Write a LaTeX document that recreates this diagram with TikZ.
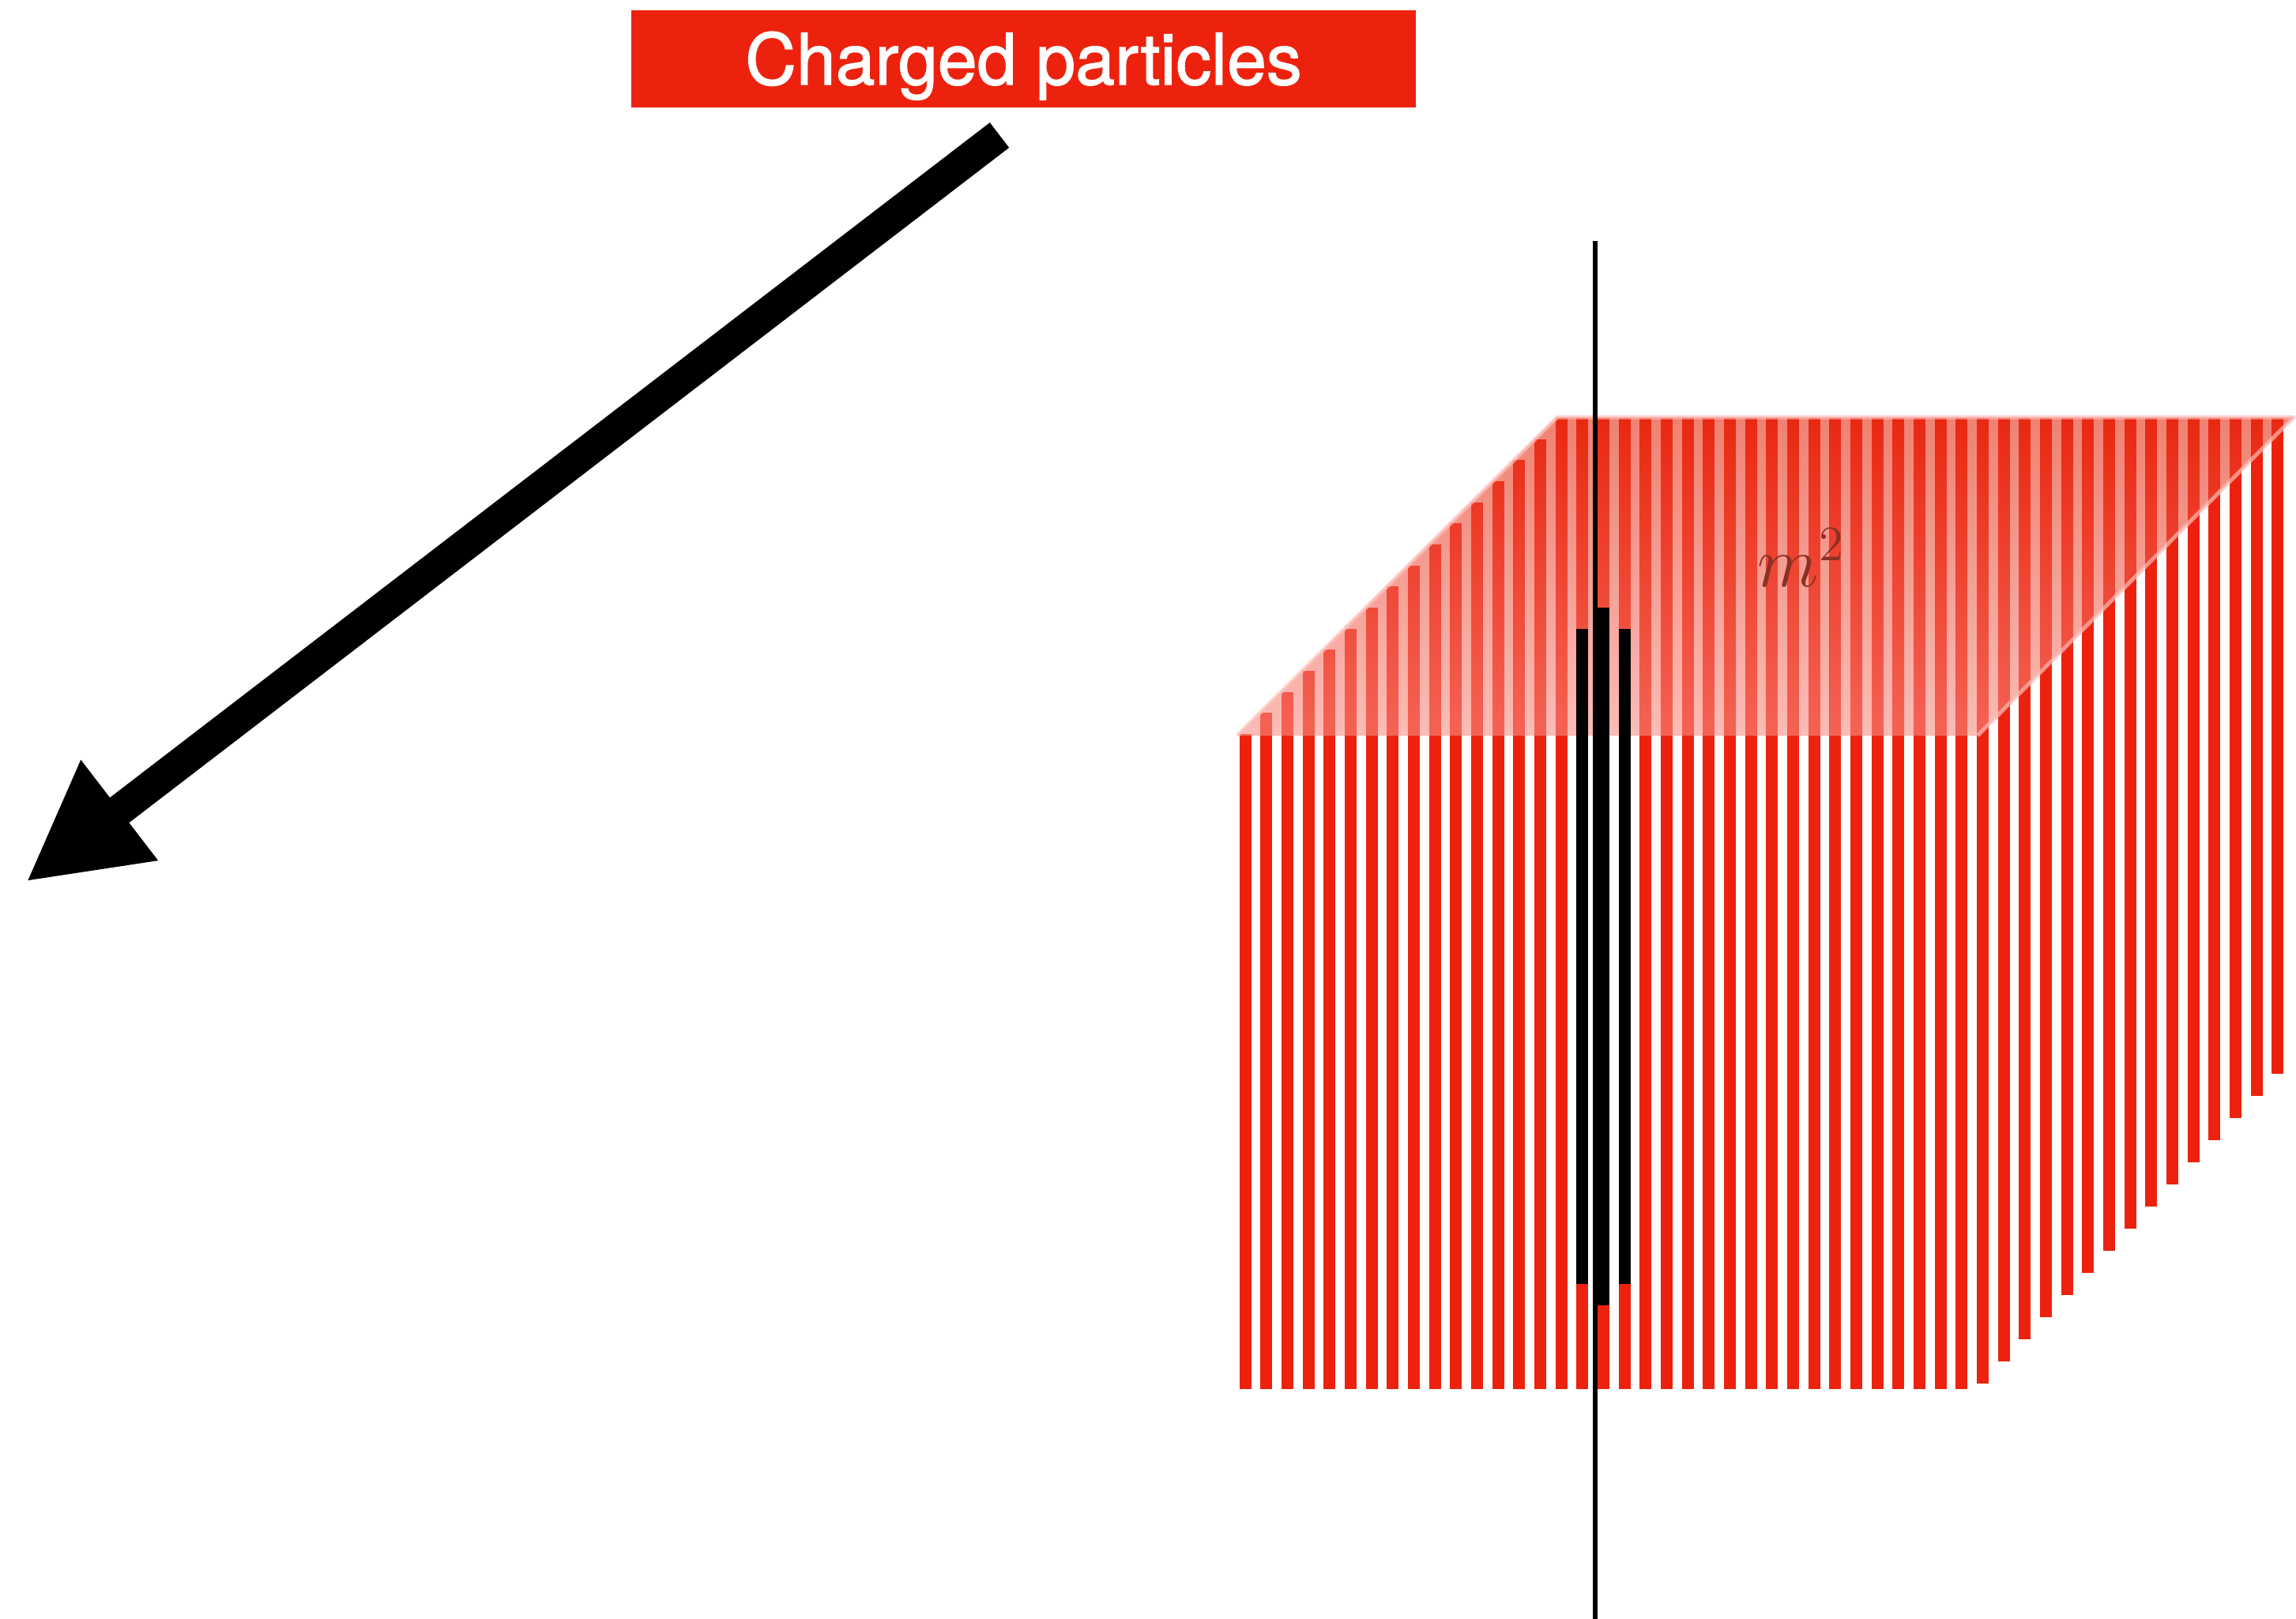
\documentclass[tikz,border=0pt]{standalone}
\usepackage{fontspec}
\newfontfamily\tagfont[FakeBold=1.5]{TeX Gyre Heros}
\definecolor{sheetred}{RGB}{237, 34, 14}
\definecolor{backred}{RGB}{230, 45, 20}
\definecolor{frontpink}{RGB}{250, 143, 133}
\definecolor{rimpink}{RGB}{252, 188, 182}
\definecolor{areabrown}{RGB}{140, 48, 38}
\usetikzlibrary{arrows.meta, calc}

\begin{document}
\begin{tikzpicture}[
  wire/.style={draw=sheetred, line width=0.15cm},
  hitwire/.style={draw=black, line width=0.15cm},
  tagbox/.style={fill=sheetred, text=white, minimum width=9.93cm, minimum height=1.23cm, inner sep=0pt, text height=0.65cm, text depth=0cm, font=\tagfont\fontsize{25.5}{30}\selectfont},
  bigarrow/.style={line width=0.40cm, -{Triangle[length=1.49cm, width=1.49cm]}}
]
  \useasboundingbox (0,0) rectangle (29.06,-20.49);

  % wires of the sheet, cut to the outline of the box
  \foreach \i in {0,...,49} {
    \pgfmathsetmacro\x{15.76 + 0.26667*\i}
    \pgfmathsetmacro\ytop{min(-5.29, -9.39 + (\x - 15.66))}
    \pgfmathsetmacro\ybot{-17.58 + 1.05*max(0, \x - 25.03)}
    \draw[wire] (\x, \ytop) -- (\x, \ybot);
  }

  \coordinate (frontleft) at (15.66, -9.31);
  \coordinate (frontright) at (25.03, -9.31);
  \coordinate (backright) at (29.03, -5.28);
  \coordinate (backleft) at (19.71, -5.28);
  \shade[top color=backred, bottom color=frontpink, fill opacity=0.6]
    (frontleft) -- (frontright) -- (backright) -- (backleft) -- cycle;
  \draw[rimpink, opacity=0.7, line width=0.05cm, line join=round]
    (frontleft) -- (backleft) -- (backright) -- (frontright);

  \node[anchor=base, text=areabrown, font=\fontsize{20.74}{25}\selectfont] (area) at (22.80, -7.42) {\scalebox{1.24}{$m^2$}};

  \foreach \i/\ya/\yb in {16/-7.96/-16.25, 17/-7.69/-16.52, 18/-7.96/-16.25} {
    \pgfmathsetmacro\x{15.76 + 0.26667*\i}
    \draw[hitwire] (\x, \ya) -- (\x, \yb);
  }

  \coordinate (axistop) at (20.19, -3.05);
  \coordinate (axisbottom) at (20.19, -20.49);
  \draw[line width=0.055cm] (axistop) -- (axisbottom);

  \node[tagbox] (charged) at (12.955, -0.745) {Charged particles};

  \coordinate (tail) at (12.65, -1.71);
  \coordinate (tip) at (0.33, -11.16);
  \draw[bigarrow] (tail) -- (tip);
\end{tikzpicture}
\end{document}
